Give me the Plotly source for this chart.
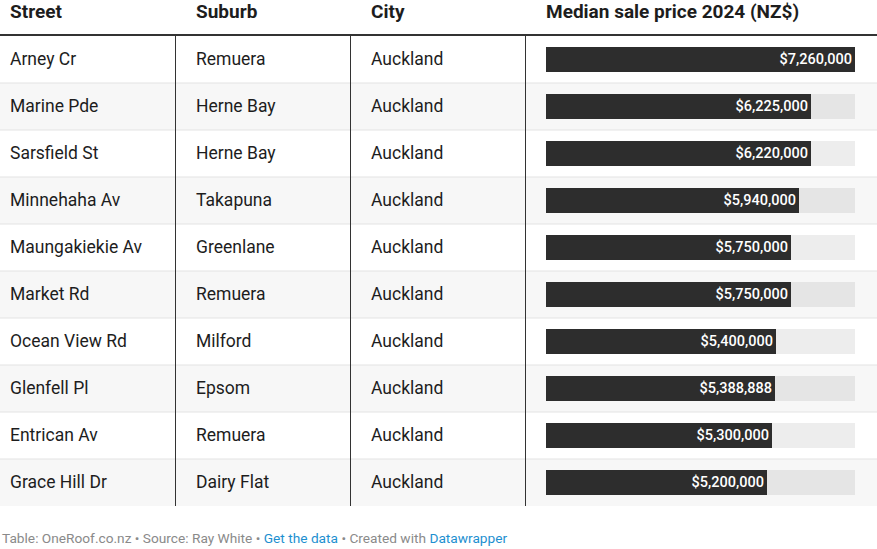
import plotly.graph_objects as go

streets = ["Arney Cr", "Marine Pde", "Sarsfield St", "Minnehaha Av", "Maungakiekie Av",
           "Market Rd", "Ocean View Rd", "Glenfell Pl", "Entrican Av", "Grace Hill Dr"]
suburbs = ["Remuera", "Herne Bay", "Herne Bay", "Takapuna", "Greenlane",
           "Remuera", "Milford", "Epsom", "Remuera", "Dairy Flat"]
cities = ["Auckland"] * 10
prices = [7260000, 6225000, 6220000, 5940000, 5750000,
          5750000, 5400000, 5388888, 5300000, 5200000]
headers = ["Street", "Suburb", "City", "Median sale price 2024 (NZ$)"]

W, H = 877, 549
ROW_H = 47
ROW0 = 59.5  # pixel centre of first row
FONT = "Roboto"
n = len(streets)
rows = list(range(n))

def py(p):  # pixel y -> row units
    return p / ROW_H - ROW0 / ROW_H

col_x = [10, 196, 371, 546]
bar_x0, bar_x1 = 546, 855

fig = go.Figure()

# row stripes
stripe_rows = [i for i in rows if i % 2 == 1]
fig.add_trace(go.Bar(
    x=[W] * len(stripe_rows), y=stripe_rows, base=0, orientation="h", width=1,
    marker=dict(color="#f7f7f7", line_width=0), xaxis="x", yaxis="y",
    hoverinfo="skip", showlegend=False))

# text cells
text_y = [r + 1 / ROW_H for r in rows]
for cx, col in zip(col_x[:3], [streets, suburbs, cities]):
    fig.add_trace(go.Scatter(
        x=[cx] * n, y=text_y, text=col, mode="text", textposition="middle right",
        textfont=dict(family=FONT, size=17.5, color="#1d1d1d"),
        xaxis="x", yaxis="y", hoverinfo="skip", showlegend=False))

# headers
fig.add_trace(go.Scatter(
    x=col_x, y=[py(13.5)] * 4, text=[f"<b>{h}</b>" for h in headers], mode="text",
    textposition="middle right",
    textfont=dict(family=FONT, size=19, color="#1d1d1d"),
    xaxis="x", yaxis="y", hoverinfo="skip", showlegend=False, cliponaxis=False))

maxp = max(prices)
# background bars
fig.add_trace(go.Bar(
    x=[maxp] * n, y=rows, orientation="h", width=25 / ROW_H,
    marker=dict(color="rgba(0,0,0,0.07)", line_width=0),
    xaxis="x2", yaxis="y", hoverinfo="skip", showlegend=False))
# value bars
fig.add_trace(go.Bar(
    x=prices, y=rows, orientation="h", width=25 / ROW_H,
    marker=dict(color="#2d2d2d", line_width=0),
    text=[f"${p:,}" for p in prices], textposition="inside", insidetextanchor="end",
    textangle=0, constraintext="none",
    textfont=dict(family=FONT, size=14.5, color="white", weight=500),
    xaxis="x2", yaxis="y", hoverinfo="skip", showlegend=False))

shapes = []
# header rule
shapes.append(dict(type="line", xref="x", yref="y", x0=0, x1=W, y0=py(35), y1=py(35),
                   line=dict(color="#333333", width=2)))
# row separators
for i in rows[:-1]:
    shapes.append(dict(type="line", xref="x", yref="y", x0=0, x1=W, y0=i + 0.5, y1=i + 0.5,
                       line=dict(color="#e3e3e3", width=1)))
# column separators
for vx in [175.5, 350.5, 525.5]:
    shapes.append(dict(type="line", xref="x", yref="y", x0=vx, x1=vx, y0=-0.5, y1=n - 0.5,
                       line=dict(color="#333333", width=1)))

footer = ('<span style="color:#8a8a8a">Table: OneRoof.co.nz • Source: Ray White • </span>'
          '<span style="color:#1d8fd0">Get the data</span>'
          '<span style="color:#8a8a8a"> • Created with </span>'
          '<span style="color:#1d8fd0">Datawrapper</span>')

fig.update_layout(
    width=W, height=H, margin=dict(l=0, r=0, t=0, b=0),
    paper_bgcolor="white", plot_bgcolor="rgba(0,0,0,0)",
    barmode="overlay", bargap=0,
    xaxis=dict(range=[0, W], domain=[0, 1], visible=False, fixedrange=True),
    xaxis2=dict(range=[0, maxp], domain=[bar_x0 / W, bar_x1 / W], anchor="y",
                visible=False, fixedrange=True),
    yaxis=dict(range=[py(H), py(0)], domain=[0, 1], visible=False, fixedrange=True),
    shapes=shapes,
    annotations=[dict(text=footer, xref="paper", yref="paper", x=0, y=1 - 537.5 / H,
                      xanchor="left", yanchor="middle", showarrow=False,
                      font=dict(family=FONT, size=13.7, color="#8a8a8a"))],
    showlegend=False,
)

fig.write_html("out.html", config={"displayModeBar": False},
               post_script="document.body.style.margin='0';document.body.style.overflow='hidden';")
